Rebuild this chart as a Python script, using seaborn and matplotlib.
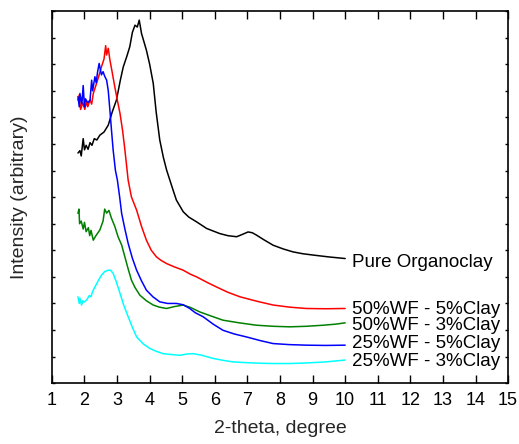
import matplotlib
matplotlib.use("Agg")
import matplotlib.pyplot as plt
import seaborn as sns
import pandas as pd

# ---- data (2-theta, intensity in arbitrary units) ----
pure_x = [1.80, 1.86, 1.90, 1.96, 2.00, 2.05, 2.11, 2.17, 2.23, 2.30, 2.38, 2.47, 2.60, 2.73, 2.85, 2.98, 3.10, 3.19, 3.30, 3.39, 3.47, 3.55, 3.62, 3.68, 3.75, 3.90, 4.00, 4.11, 4.20, 4.31, 4.42, 4.52, 4.62, 4.72, 4.82, 5.03, 5.20, 5.44, 5.75, 6.15, 6.40, 6.67, 6.85, 7.02, 7.15, 7.28, 7.50, 7.79, 8.10, 8.40, 8.70, 9.02, 9.50, 10.00]
pure_y = [8.66, 8.75, 8.55, 9.20, 8.78, 8.95, 8.80, 9.05, 8.95, 9.20, 9.15, 9.33, 9.45, 9.71, 10.20, 10.65, 11.40, 11.90, 12.30, 12.66, 13.20, 13.47, 13.40, 13.66, 13.16, 12.53, 12.00, 11.28, 10.20, 9.15, 8.50, 8.02, 7.64, 7.26, 6.89, 6.45, 6.25, 6.07, 5.82, 5.63, 5.55, 5.51, 5.60, 5.69, 5.66, 5.57, 5.40, 5.19, 5.05, 4.94, 4.87, 4.82, 4.75, 4.69]

r50_5_x = [1.80, 1.84, 1.88, 1.95, 2.01, 2.06, 2.10, 2.17, 2.22, 2.27, 2.37, 2.45, 2.52, 2.60, 2.65, 2.68, 2.73, 2.78, 2.85, 2.93, 3.00, 3.09, 3.17, 3.24, 3.34, 3.44, 3.60, 3.75, 3.90, 4.05, 4.21, 4.35, 4.52, 4.75, 5.03, 5.25, 5.44, 5.75, 6.05, 6.40, 6.77, 7.30, 7.79, 8.30, 8.81, 9.40, 10.00]
r50_5_y = [10.65, 10.85, 10.30, 10.55, 10.30, 10.60, 10.40, 10.65, 10.50, 10.90, 11.28, 11.60, 11.90, 12.20, 12.70, 12.35, 12.60, 12.16, 11.70, 11.15, 10.70, 10.15, 9.50, 8.78, 7.64, 7.01, 6.51, 5.90, 5.38, 5.00, 4.75, 4.62, 4.50, 4.38, 4.25, 4.10, 4.00, 3.80, 3.62, 3.42, 3.25, 3.08, 2.94, 2.86, 2.81, 2.80, 2.81]

g50_3_x = [1.80, 1.83, 1.85, 1.90, 1.96, 2.00, 2.05, 2.12, 2.16, 2.20, 2.27, 2.35, 2.47, 2.57, 2.62, 2.68, 2.75, 2.83, 2.93, 3.03, 3.14, 3.24, 3.34, 3.44, 3.55, 3.70, 3.90, 4.11, 4.30, 4.52, 4.75, 5.03, 5.25, 5.54, 5.90, 6.25, 6.75, 7.28, 7.80, 8.30, 8.80, 9.32, 9.70, 10.00]
g50_3_y = [6.39, 6.55, 6.00, 6.10, 5.80, 6.05, 5.70, 5.85, 5.55, 5.75, 5.38, 5.55, 5.76, 6.10, 6.55, 6.40, 6.50, 6.20, 5.90, 5.51, 5.20, 4.75, 4.30, 3.88, 3.60, 3.31, 3.10, 2.94, 2.86, 2.81, 2.88, 2.94, 2.85, 2.68, 2.52, 2.37, 2.27, 2.18, 2.14, 2.12, 2.14, 2.18, 2.22, 2.27]

b25_5_x = [1.80, 1.84, 1.86, 1.92, 1.96, 2.00, 2.03, 2.10, 2.17, 2.22, 2.25, 2.32, 2.36, 2.40, 2.45, 2.52, 2.57, 2.62, 2.68, 2.73, 2.78, 2.83, 2.88, 2.95, 3.01, 3.08, 3.14, 3.24, 3.34, 3.47, 3.60, 3.75, 3.90, 4.10, 4.31, 4.55, 4.82, 5.03, 5.23, 5.40, 5.64, 5.95, 6.25, 6.60, 6.97, 7.40, 7.79, 8.30, 8.81, 9.40, 10.00]
b25_5_y = [10.78, 10.40, 10.90, 10.50, 11.20, 10.40, 10.70, 10.55, 10.65, 11.40, 11.00, 11.53, 11.30, 11.70, 12.03, 11.60, 11.72, 11.55, 11.40, 11.00, 10.27, 9.50, 8.77, 8.00, 7.64, 7.00, 6.39, 5.80, 5.26, 4.70, 4.25, 3.85, 3.50, 3.25, 3.06, 3.00, 3.00, 2.95, 2.81, 2.65, 2.50, 2.22, 1.99, 1.85, 1.74, 1.60, 1.49, 1.45, 1.43, 1.42, 1.43]

c25_3_x = [1.80, 1.84, 1.86, 1.91, 1.95, 1.98, 2.06, 2.15, 2.20, 2.25, 2.32, 2.42, 2.52, 2.62, 2.73, 2.80, 2.88, 2.98, 3.09, 3.20, 3.34, 3.47, 3.60, 3.80, 4.00, 4.20, 4.41, 4.65, 4.93, 5.15, 5.34, 5.60, 5.95, 6.25, 6.56, 7.00, 7.40, 7.79, 8.30, 8.81, 9.40, 10.00]
c25_3_y = [3.25, 3.00, 3.20, 2.94, 3.10, 3.05, 3.12, 3.30, 3.25, 3.45, 3.62, 3.85, 4.06, 4.20, 4.25, 4.25, 4.13, 3.80, 3.38, 2.95, 2.50, 2.10, 1.74, 1.48, 1.31, 1.20, 1.11, 1.08, 1.05, 1.10, 1.11, 1.05, 0.93, 0.86, 0.80, 0.77, 0.75, 0.74, 0.74, 0.76, 0.80, 0.87]

series_names = ["Pure Organoclay", "50%WF - 5%Clay", "50%WF - 3%Clay", "25%WF - 5%Clay", "25%WF - 3%Clay"]
series_colors = ["black", "red", "green", "blue", "cyan"]
label_y = [4.55, 2.79, 2.18, 1.50, 0.83]
xticks = list(range(1, 16))

frames = []
for name, xs, ys in zip(series_names,
                        [pure_x, r50_5_x, g50_3_x, b25_5_x, c25_3_x],
                        [pure_y, r50_5_y, g50_3_y, b25_5_y, c25_3_y]):
    frames.append(pd.DataFrame({"x": xs, "y": ys, "s": name}))
df = pd.concat(frames, ignore_index=True)

sns.set_style("ticks")
plt.rcParams["font.family"] = ["Liberation Sans", "DejaVu Sans"]

fig = plt.figure(figsize=(5.19, 4.44), dpi=100)
ax = fig.add_axes([0.100, 0.137, 0.879, 0.838])

sns.lineplot(data=df, x="x", y="y", hue="s", palette=dict(zip(series_names, series_colors)),
             sort=False, estimator=None, linewidth=1.1, legend=False, ax=ax)

for name, ly in zip(series_names, label_y):
    ax.text(10.2, ly, name, fontsize=13.5, va="center", ha="left", color="black")

ax.set_xlim(1, 15)
ax.set_ylim(0, 14)
ax.set_xticks(xticks)
ax.set_xticklabels([str(t) for t in xticks], fontsize=13)
ax.set_yticks(range(0, 15))
ax.set_yticklabels([])
ax.tick_params(axis="x", direction="in", length=6, width=1, top=True, colors="black", pad=6)
ax.tick_params(axis="y", direction="in", length=2.5, width=1, right=True, colors="black")
for sp in ax.spines.values():
    sp.set_visible(True)
    sp.set_linewidth(1.2)
    sp.set_color("black")
ax.set_xlabel("2-theta, degree", fontsize=14, labelpad=8)
ax.set_ylabel("Intensity (arbitrary)", fontsize=14, labelpad=14)

fig.savefig("out.png", dpi=100)
